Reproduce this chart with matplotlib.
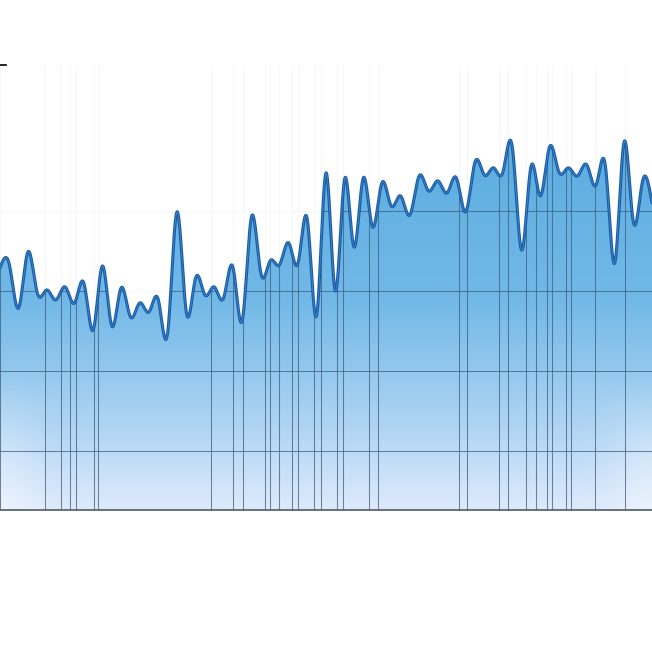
import numpy as np
import matplotlib
matplotlib.use("Agg")
import matplotlib.pyplot as plt
from matplotlib.patches import Polygon

# valores de la serie (puntos equiespaciados)
values = [164.4, 166.5, 139.4, 174.4, 148.8, 150.6, 144.4, 152.5, 142.5, 155.0,
          125.6, 165.6, 128.1, 151.9, 133.8, 142.5, 136.9, 144.4, 124.0, 199.4,
          136.9, 158.1, 147.5, 152.5, 145.6, 165.0, 131.3, 196.3, 161.3, 168.8,
          166.3, 180.0, 167.5, 194.4, 135.0, 223.8, 150.0, 220.0, 177.5, 220.6,
          190.0, 217.5, 203.1, 209.4, 197.5, 221.9, 212.5, 218.8, 211.3, 220.6,
          199.4, 230.6, 222.5, 226.9, 224.4, 240.0, 175.6, 227.5, 209.4, 240.0,
          224.4, 226.9, 221.9, 228.8, 216.3, 228.0, 167.5, 243.0, 193.1, 219.0,
          205.0]
x_idx = list(range(len(values)))

# posiciones de las lineas verticales de la rejilla
vgrid = [0, 4.83, 6.6, 7.52, 8.13, 10.04, 10.52, 22.65, 25.02, 26.09, 28.45, 28.99,
         29.96, 31.3, 32.0, 33.71, 34.47, 36.18, 36.83, 39.62, 40.58, 49.28,
         50.14, 53.52, 54.54, 56.47, 57.55, 58.73, 59.27, 60.72, 61.31, 63.88, 67.1]
hgrid = [50, 100, 150, 200]
y_min, y_max = 13.1, 291.2


def natural_spline(xs, ys, n=30):
    """Spline cubico natural que pasa por todos los puntos"""
    xs = np.asarray(xs, float)
    ys = np.asarray(ys, float)
    m = len(xs)
    h = np.diff(xs)
    A = np.zeros((m, m))
    b = np.zeros(m)
    A[0, 0] = A[-1, -1] = 1.0
    for i in range(1, m - 1):
        A[i, i - 1] = h[i - 1]
        A[i, i] = 2 * (h[i - 1] + h[i])
        A[i, i + 1] = h[i]
        b[i] = 6 * ((ys[i + 1] - ys[i]) / h[i] - (ys[i] - ys[i - 1]) / h[i - 1])
    M = np.linalg.solve(A, b)
    out_x, out_y = [], []
    for i in range(m - 1):
        t = np.linspace(xs[i], xs[i + 1], n, endpoint=False)
        a = xs[i + 1] - t
        c = t - xs[i]
        s = (M[i] * a ** 3 + M[i + 1] * c ** 3) / (6 * h[i]) \
            + (ys[i] / h[i] - M[i] * h[i] / 6) * a \
            + (ys[i + 1] / h[i] - M[i + 1] * h[i] / 6) * c
        out_x.extend(t)
        out_y.extend(s)
    out_x.append(xs[-1])
    out_y.append(ys[-1])
    return np.array(out_x), np.array(out_y)


cx, cy = natural_spline(x_idx, values)

fig = plt.figure(figsize=(6.52, 6.52), dpi=100)
ax = fig.add_axes([0, 0.2178, 1, 0.6825])
ax.set_xlim(x_idx[0], x_idx[-1])
ax.set_ylim(y_min, y_max)
ax.set_xticks([])
ax.set_yticks([])
for s in ("top", "right", "left"):
    ax.spines[s].set_visible(False)
ax.spines["bottom"].set_color("#5c6672")
ax.spines["bottom"].set_linewidth(1.3)

# lineas de rejilla muy tenues en todo el grafico
for gx in vgrid:
    ax.axvline(gx, color="#f5f6f8", lw=0.6, zorder=0)
for gy in hgrid:
    ax.axhline(gy, color="#f5f6f8", lw=0.6, zorder=0)

# poligono del area bajo la curva
poly_xy = np.column_stack([np.concatenate([cx, [cx[-1], cx[0]]]),
                           np.concatenate([cy, [y_min, y_min]])])
clip = Polygon(poly_xy, closed=True, facecolor="none", edgecolor="none")
ax.add_patch(clip)

# degradado vertical del relleno
H, W = 300, 200
yy = np.linspace(0, 1, H)[:, None]  # 0 arriba, 1 abajo
xx = np.linspace(0, 1, W)[None, :]
stops = np.array([0.0, 0.17, 0.53, 0.80, 1.0])
cols = np.array([[88, 170, 224], [92, 173, 225], [114, 185, 231],
                 [172, 211, 243], [222, 234, 251]]) / 255.0
grad = np.zeros((H, W, 3))
for k in range(3):
    grad[:, :, k] = np.interp(yy[:, 0], stops, cols[:, k])[:, None]
# aclarado en las esquinas inferiores
edge = np.exp(-(xx / 0.06) ** 2) + np.exp(-((1 - xx) / 0.06) ** 2)
low = np.clip((yy - 0.7) / 0.3, 0, 1)
w = np.clip(edge * low * 0.6, 0, 1)[:, :, None]
grad = grad * (1 - w) + np.array([0.95, 0.97, 1.0]) * w
im = ax.imshow(grad, extent=(x_idx[0], x_idx[-1], y_min, y_max),
               aspect="auto", origin="upper", zorder=1, interpolation="bilinear")
im.set_clip_path(clip)

# lineas de rejilla oscuras dentro del area
for gx in vgrid:
    ln = ax.axvline(gx, color="#3f5f7f", lw=0.75, alpha=0.75, zorder=2)
    ln.set_clip_path(clip)
for gy in hgrid:
    ln = ax.axhline(gy, color="#3f5f7f", lw=0.75, alpha=0.75, zorder=2)
    ln.set_clip_path(clip)

# curva
ax.plot(cx, cy, color="#1b5ba3", lw=2.2, zorder=3, solid_capstyle="round")
ax.plot(cx, cy, color="#3a87cf", lw=0.6, zorder=4)

# pequena marca arriba a la izquierda
ax.plot([0, 0.009], [1, 1], transform=ax.transAxes, color="black", lw=1.2,
        clip_on=False, zorder=5)

fig.savefig("out.png", dpi=100)
